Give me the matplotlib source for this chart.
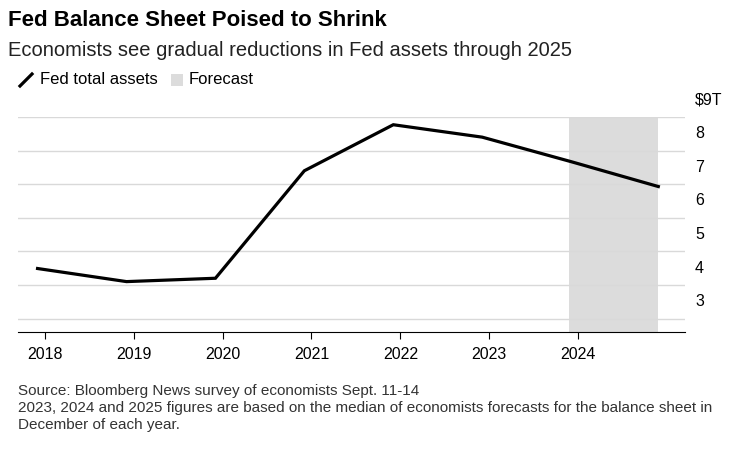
import matplotlib.pyplot as plt
import numpy as np

plt.rcParams['font.family'] = 'Liberation Sans'

# Fed total assets, trillions of dollars (December readings)
dates = [2017.92, 2018.92, 2019.92, 2020.92, 2021.92, 2022.92, 2023.92, 2024.9]
assets = [4.49, 4.1, 4.2, 7.4, 8.77, 8.4, 7.67, 6.93]
forecast_start, forecast_end = 2023.9, 2024.9
year_ticks = [2018, 2019, 2020, 2021, 2022, 2023, 2024]
y_ticks = [3, 4, 5, 6, 7, 8, 9]

fig = plt.figure(figsize=(7.36, 4.53), dpi=100)
ax = fig.add_axes([18/736, 1-332/453, (685-18)/736, (332-117)/453])

ax.axvspan(forecast_start, forecast_end, color='#dcdcdc', lw=0, zorder=0)
for v in y_ticks:
    ax.axhline(v, color='#d9d9d9', lw=1, zorder=1)
ax.plot(dates, assets, color='black', lw=2.3, zorder=3, solid_joinstyle='miter')

ax.set_xlim(2017.7, 2025.2)
ax.set_ylim(2.6, 9)
ax.set_xticks(year_ticks)
ax.set_xticklabels([str(y) for y in year_ticks], fontsize=11.5)
ax.tick_params(axis='x', length=5, color='black', pad=6)
ax.set_yticks([])
for v in y_ticks:
    ax.text(1.015, v + 0.5, '$9T' if v == 9 else str(v), transform=ax.get_yaxis_transform(),
            ha='left', va='center', fontsize=11.5)
for s in ['top', 'right', 'left']:
    ax.spines[s].set_visible(False)
ax.spines['bottom'].set_color('black')

fig.text(8/736, 1-20/453, 'Fed Balance Sheet Poised to Shrink', fontsize=16, fontweight='bold', va='center')
fig.text(8/736, 1-50/453, 'Economists see gradual reductions in Fed assets through 2025', fontsize=14.5, va='center', color='#222222')
fig.add_artist(plt.Line2D([20/736, 32/736], [1-86/453, 1-74/453], color='black', lw=2.3))
fig.text(40/736, 1-80/453, 'Fed total assets', fontsize=12, va='center')
fig.add_artist(plt.Rectangle((171/736, 1-86/453), 12/736, 12/453, color='#dcdcdc', lw=0))
fig.text(189/736, 1-80/453, 'Forecast', fontsize=12, va='center')

fig.text(18/736, 1-391/453, 'Source: Bloomberg News survey of economists Sept. 11-14', fontsize=11, va='center', color='#333333')
fig.text(18/736, 1-408/453, '2023, 2024 and 2025 figures are based on the median of economists forecasts for the balance sheet in',
         fontsize=11, va='center', color='#333333')
fig.text(18/736, 1-425/453, 'December of each year.', fontsize=11, va='center', color='#333333')

fig.savefig('out.png', dpi=100)
